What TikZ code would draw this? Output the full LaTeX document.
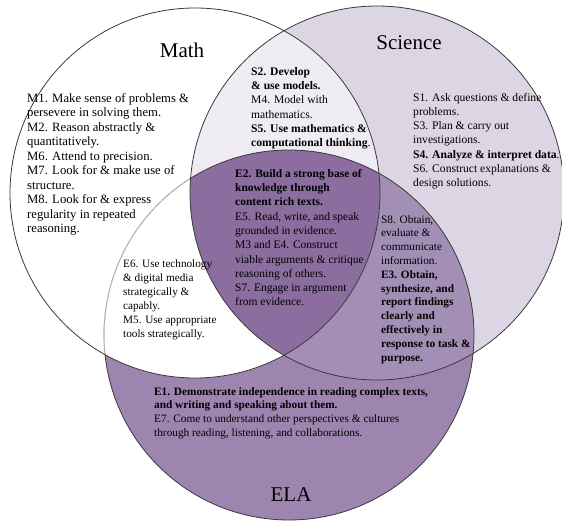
\documentclass[tikz,border=0pt]{standalone}
\usepackage{fontspec}
\setmainfont{Liberation Serif}
\usetikzlibrary{positioning}
\definecolor{sciFill}{HTML}{DCD6E4}
\definecolor{msFill}{HTML}{EFECF3}
\definecolor{elaFill}{HTML}{9D85B0}
\definecolor{seFill}{HTML}{A38EB5}
\definecolor{coreFill}{HTML}{8B6E9F}
\definecolor{rimGray}{HTML}{3A3A3A}

\begin{document}
\begin{tikzpicture}[x=1pt, y=-1pt,
    title/.style={font=\fontsize{21}{24}\selectfont, inner sep=0pt},
    list/.style 2 args={font=\fontsize{#1}{#2}\selectfont, align=left, anchor=north west, inner sep=0pt},
    rim/.style={draw=rimGray, line width=0.8pt}
  ]
  \useasboundingbox (0,0) rectangle (562,521);
  \fill[white] (0,0) rectangle (562,521);

  \coordinate (mathC) at (195,193);
  \coordinate (sciC) at (377,193);
  \coordinate (elaC) at (289,335);

  % region fills
  \fill[sciFill] (sciC) circle[radius=187pt];
  \fill[elaFill] (elaC) circle[radius=185pt];
  \begin{scope}
    \clip (sciC) circle[radius=187pt];
    \fill[seFill] (elaC) circle[radius=185pt];
  \end{scope}
  \fill[white] (mathC) circle[radius=185pt];
  \begin{scope}
    \clip (mathC) circle[radius=185pt];
    \fill[msFill] (sciC) circle[radius=187pt];
    \clip (sciC) circle[radius=187pt];
    \fill[coreFill] (elaC) circle[radius=185pt];
  \end{scope}

  % outlines
  \draw[rim] (mathC) circle[radius=185pt];
  \draw[rim] (sciC) circle[radius=187pt];
  \draw[rim] (elaC) circle[radius=185pt];
  % lighter ELA rim inside the white Math area
  \begin{scope}[even odd rule]
    \clip (mathC) circle[radius=184pt];
    \clip (0,0) rectangle (562,521) (sciC) circle[radius=188pt];
    \draw[white, line width=1.2pt] (elaC) circle[radius=185pt];
    \draw[gray!80, line width=0.6pt] (elaC) circle[radius=185pt];
  \end{scope}

  \node[title] (mathTitle) at (182,50) {Math};
  \node[title] (sciTitle) at (409,43) {Science};
  \node[title] (elaTitle) at (291,495) {ELA};

  \node[list={12.7}{14.5}] (mathList) at (27,93) {M1. Make sense of problems \&\\
    persevere in solving them.\\
    M2. Reason abstractly \&\\
    quantitatively.\\
    M6. Attend to precision.\\
    M7. Look for \& make use of\\
    structure.\\
    M8. Look for \& express\\
    regularity in repeated\\
    reasoning.};

  \node[list={11.6}{14.3}] (msList) at (251,67) {\textbf{S2. Develop}\\
    \textbf{\& use models.}\\
    M4. Model with\\
    mathematics.\\
    \textbf{S5. Use mathematics \&}\\
    \textbf{computational thinking}.};

  \node[list={11.6}{14.2}] (sciList) at (413,93) {S1. Ask questions \& define\\
    problems.\\
    S3. Plan \& carry out\\
    investigations.\\
    \textbf{S4. Analyze \& interpret data}.\\
    S6. Construct explanations \&\\
    design solutions.};

  \node[list={11.5}{14.3}] (coreList) at (235,169) {\textbf{E2. Build a strong base of}\\
    \textbf{knowledge through}\\
    \textbf{content rich texts.}\\
    E5. Read, write, and speak\\
    grounded in evidence.\\
    M3 and E4. Construct\\
    viable arguments \& critique\\
    reasoning of others.\\
    S7. Engage in argument\\
    from evidence.};

  \node[list={11.2}{14}] (meList) at (123,260) {E6. Use technology\\
    \& digital media\\
    strategically \&\\
    capably.\\
    M5. Use appropriate\\
    tools strategically.};

  \node[list={11.3}{13.8}] (seList) at (381,215) {S8. Obtain,\\
    evaluate \&\\
    communicate\\
    information.\\
    \textbf{E3. Obtain,}\\
    \textbf{synthesize, and}\\
    \textbf{report findings}\\
    \textbf{clearly and}\\
    \textbf{effectively in}\\
    \textbf{response to task \&}\\
    \textbf{purpose.}};

  \node[list={11.3}{13.7}] (elaList) at (154,387) {\textbf{E1. Demonstrate independence in reading complex texts,}\\
    \textbf{and writing and speaking about them.}\\
    E7. Come to understand other perspectives \& cultures\\
    through reading, listening, and collaborations.};
\end{tikzpicture}
\end{document}
